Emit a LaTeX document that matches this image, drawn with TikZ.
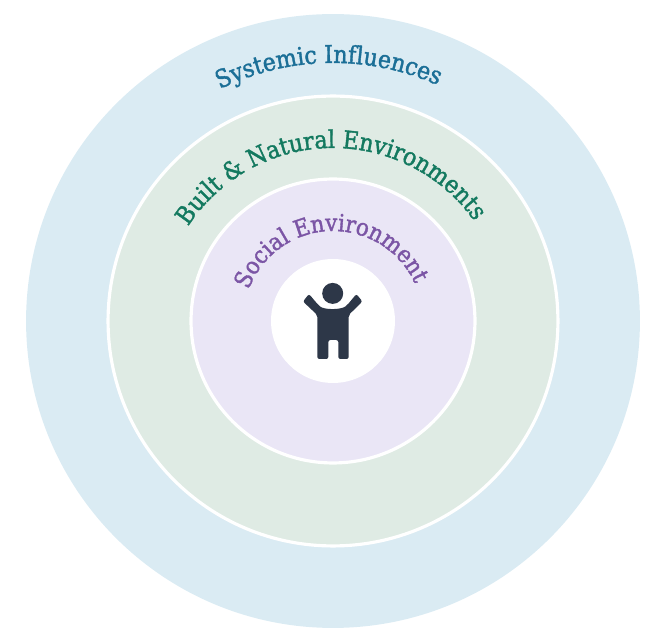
\documentclass[tikz,border=0pt]{standalone}
\usepackage{fontspec}
\setmainfont[FakeBold=1.5]{DejaVu Serif Condensed}
\usetikzlibrary{decorations.text}
\definecolor{systemicfill}{HTML}{DAEBF3}
\definecolor{builtfill}{HTML}{DFEBE4}
\definecolor{socialfill}{HTML}{EAE6F6}
\definecolor{systemictext}{HTML}{1B6F97}
\definecolor{builttext}{HTML}{13795F}
\definecolor{socialtext}{HTML}{7B55A5}
\definecolor{figurefill}{HTML}{2D3748}
\tikzset{
    ring/.style={
        circle, inner sep=0pt, draw=white, line width=1.8pt
    },
    ring label/.style={
        decorate,
        decoration={
            text along path,
            text align=center,
            text={#1}
        }
    }
}
\newcommand{\labelfont}[2]{\fontsize{#2}{18}\selectfont\color{#1}}
\begin{document}
\begin{tikzpicture}[scale=0.02]
\useasboundingbox (-333,-319) rectangle (335,321);
\node[ring, fill=systemicfill, draw=none, minimum size=12.28cm] (OUTER) at (0,0) {};
\node[ring, fill=builtfill, minimum size=9cm] (MIDDLE) at (0,0) {};
\node[ring, fill=socialfill, minimum size=5.68cm] (INNER) at (0,0) {};
\node[ring, fill=white, draw=none, minimum size=2.48cm] (CENTER) at (0,0) {};
\node[circle, inner sep=0pt, fill=figurefill, minimum size=0.42cm] (HEAD) at (-0.3,27.6) {};
% child
\fill[figurefill, rounded corners=1.2pt] (-15.7,6) -- (-30,19.5) -- (-24,27) -- (-14.7,16)
    .. controls (-9,11) and (8,11) .. (14.3,16)
    -- (23.4,27) -- (29.4,19.5) -- (15.7,6) -- (15.7,-38) -- (5.3,-38) -- (5.3,-19)
    -- (-4.7,-19) -- (-4.7,-38) -- (-15.7,-38) -- cycle;
% curved labels
\path[ring label={|\labelfont{systemictext}{14}|Systemic Influences}] (161:258) arc (161:21:258);
\path[ring label={|\labelfont{builttext}{14}|Built {\&} Natural Environments}] (171:173) arc (171:11:173);
\path[ring label={|\labelfont{socialtext}{13.5}|Social Environment}] (180:90) arc (180:4:90);
\end{tikzpicture}
\end{document}
